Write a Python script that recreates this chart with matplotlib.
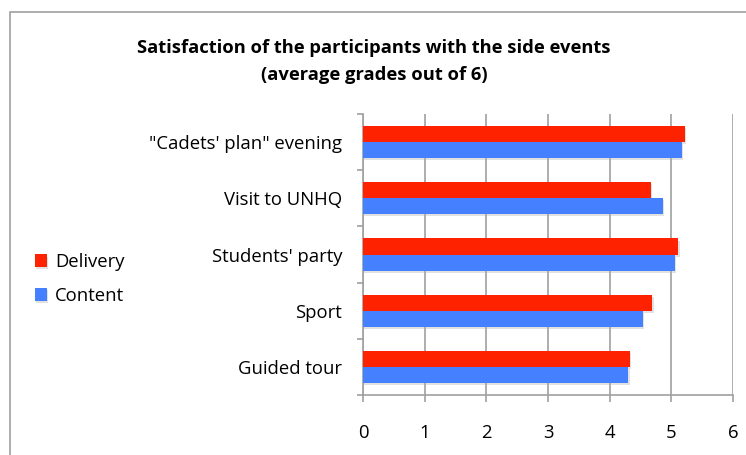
import matplotlib
matplotlib.use("Agg")
import matplotlib.pyplot as plt
import matplotlib.patheffects as pe
from matplotlib.patches import Rectangle
import numpy as np

categories = ['"Cadets\' plan" evening', "Visit to UNHQ", "Students' party", "Sport", "Guided tour"]
delivery = [5.22, 4.67, 5.11, 4.69, 4.33]
content = [5.17, 4.86, 5.06, 4.54, 4.30]
xticks = [0, 1, 2, 3, 4, 5, 6]

plt.rcParams['font.family'] = ['Open Sans', 'DejaVu Sans']

fig = plt.figure(figsize=(7.46, 4.55), dpi=100)
fig.patches.append(Rectangle((10/746, -0.2), 1.2, 1.2 - 12/455, transform=fig.transFigure,
                             fill=False, edgecolor='#a0a0a0', linewidth=1.2, zorder=0))

ax = fig.add_axes([363/746, 1 - 395/455, 370/746, 281/455])

y = np.arange(len(categories))
h = 0.285
red = '#ff2200'
blue = '#4480ff'
shadow = [pe.SimplePatchShadow(offset=(1, -1.5), shadow_rgbFace='#aaaaaa', alpha=0.35), pe.Normal()]
b1 = ax.barh(y - h/2, delivery, height=h, color=red, label='Delivery', zorder=3, path_effects=shadow)
b2 = ax.barh(y + h/2, content, height=h, color=blue, label='Content', zorder=3, path_effects=shadow)

ax.set_ylim(len(categories) - 0.5, -0.5)
ax.set_xlim(0, 6)
ax.set_xticks(xticks)
ax.set_xticklabels([str(t) for t in xticks], fontsize=13.3)
ax.set_yticks(y)
ax.set_yticklabels(categories, fontsize=13.3)
ax.set_yticks(np.arange(-0.5, len(categories), 1.0), minor=True)

ax.tick_params(axis='y', which='major', length=0, pad=15)
ax.tick_params(axis='y', which='minor', length=4, direction='out', color='#a0a0a0', width=1.2)
ax.tick_params(axis='x', which='major', length=5, direction='out', color='#a0a0a0', width=1.2, pad=16)

ax.grid(axis='x', color='#a0a0a0', linewidth=1.2, zorder=1)
ax.set_axisbelow(True)
for s in ['top', 'right']:
    ax.spines[s].set_visible(False)
for s in ['left', 'bottom']:
    ax.spines[s].set_color('#a0a0a0')
    ax.spines[s].set_linewidth(1.2)

fig.text(374/746, 1 - 48/455, "Satisfaction of the participants with the side events",
         ha='center', va='center', fontsize=13.2, fontweight='bold')
fig.text(374/746, 1 - 75/455, "(average grades out of 6)",
         ha='center', va='center', fontsize=13.2, fontweight='bold')

leg = fig.legend(handles=[b1, b2], labels=['Delivery', 'Content'], loc='center left',
                 bbox_to_anchor=(18/746, 1 - 279/455), frameon=False, fontsize=13.3,
                 handlelength=0.65, handleheight=0.65, handletextpad=0.45, labelspacing=0.85)

fig.savefig("out.png", dpi=100)
